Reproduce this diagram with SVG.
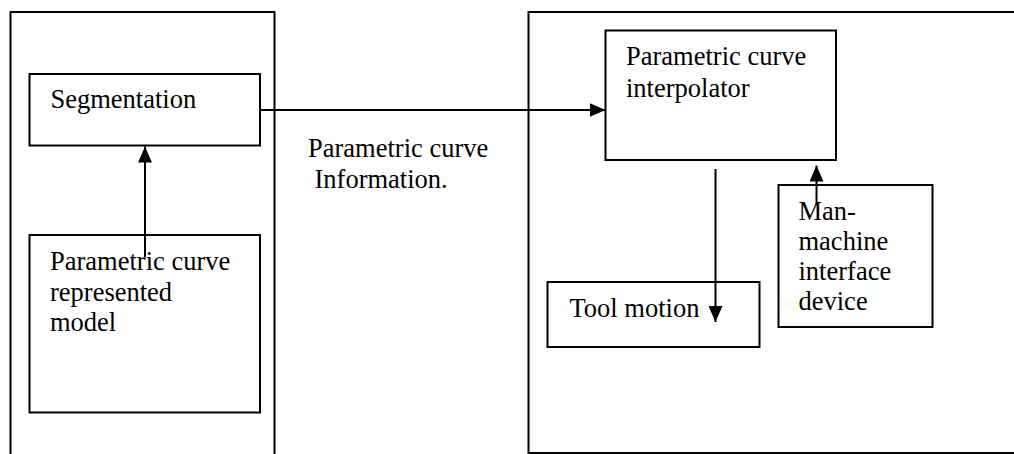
<svg xmlns="http://www.w3.org/2000/svg" width="1014" height="454" viewBox="0 0 1014 454">
<style>
.box{fill:none;stroke:#000;stroke-width:2}
.ln{fill:none;stroke:#000;stroke-width:2}
.t{font-family:'Liberation Serif','DejaVu Serif',serif;font-size:26.5px;fill:#000}
</style>
<defs>
<marker id="ah" markerUnits="userSpaceOnUse" markerWidth="16" markerHeight="14" refX="16" refY="7" orient="auto">
<path d="M0,0 L16,7 L0,14 Z" fill="#000"/>
</marker>
</defs>
<rect width="1014" height="454" fill="#fff"/>
<g id="left-system"><rect class="box" x="10.5" y="12" width="264" height="450"/></g>
<g id="right-system"><rect class="box" x="528.5" y="12" width="500" height="441"/></g>
<g id="segmentation"><rect class="box" x="29.5" y="74" width="230.5" height="71.5"/>
<text class="t" font-family="Liberation Serif" x="50.5" y="108">Segmentation</text></g>
<g id="model"><rect class="box" x="29.5" y="235" width="230.5" height="177.5"/>
<text class="t" font-family="Liberation Serif" x="50" y="270">Parametric curve</text>
<text class="t" font-family="Liberation Serif" x="50" y="300.5">represented</text>
<text class="t" font-family="Liberation Serif" x="50" y="330.5">model</text></g>
<g id="interpolator"><rect class="box" x="605.5" y="30.5" width="230.5" height="129.5"/>
<text class="t" font-family="Liberation Serif" x="626" y="65">Parametric curve</text>
<text class="t" font-family="Liberation Serif" x="626" y="96.5">interpolator</text></g>
<g id="tool-motion"><rect class="box" x="547.5" y="282" width="212" height="65"/>
<text class="t" font-family="Liberation Serif" x="569.5" y="316.5">Tool motion</text></g>
<g id="mmi"><rect class="box" x="778.5" y="185" width="154" height="142"/>
<text class="t" font-family="Liberation Serif" x="798.5" y="220">Man-</text>
<text class="t" font-family="Liberation Serif" x="798.5" y="250">machine</text>
<text class="t" font-family="Liberation Serif" x="798.5" y="280">interface</text>
<text class="t" font-family="Liberation Serif" x="798.5" y="310">device</text></g>
<g id="label"><text class="t" font-family="Liberation Serif" x="308" y="156.5">Parametric curve</text>
<text class="t" font-family="Liberation Serif" x="314.5" y="188">Information.</text></g>
<g id="connectors">
<line class="ln" x1="145" y1="257" x2="145" y2="146.5" marker-end="url(#ah)"/>
<line class="ln" x1="260" y1="110" x2="605.5" y2="110" marker-end="url(#ah)"/>
<line class="ln" x1="715.5" y1="169" x2="715.5" y2="322" marker-end="url(#ah)"/>
<line class="ln" x1="816.5" y1="204" x2="816.5" y2="165.5" marker-end="url(#ah)"/>
</g>
</svg>
